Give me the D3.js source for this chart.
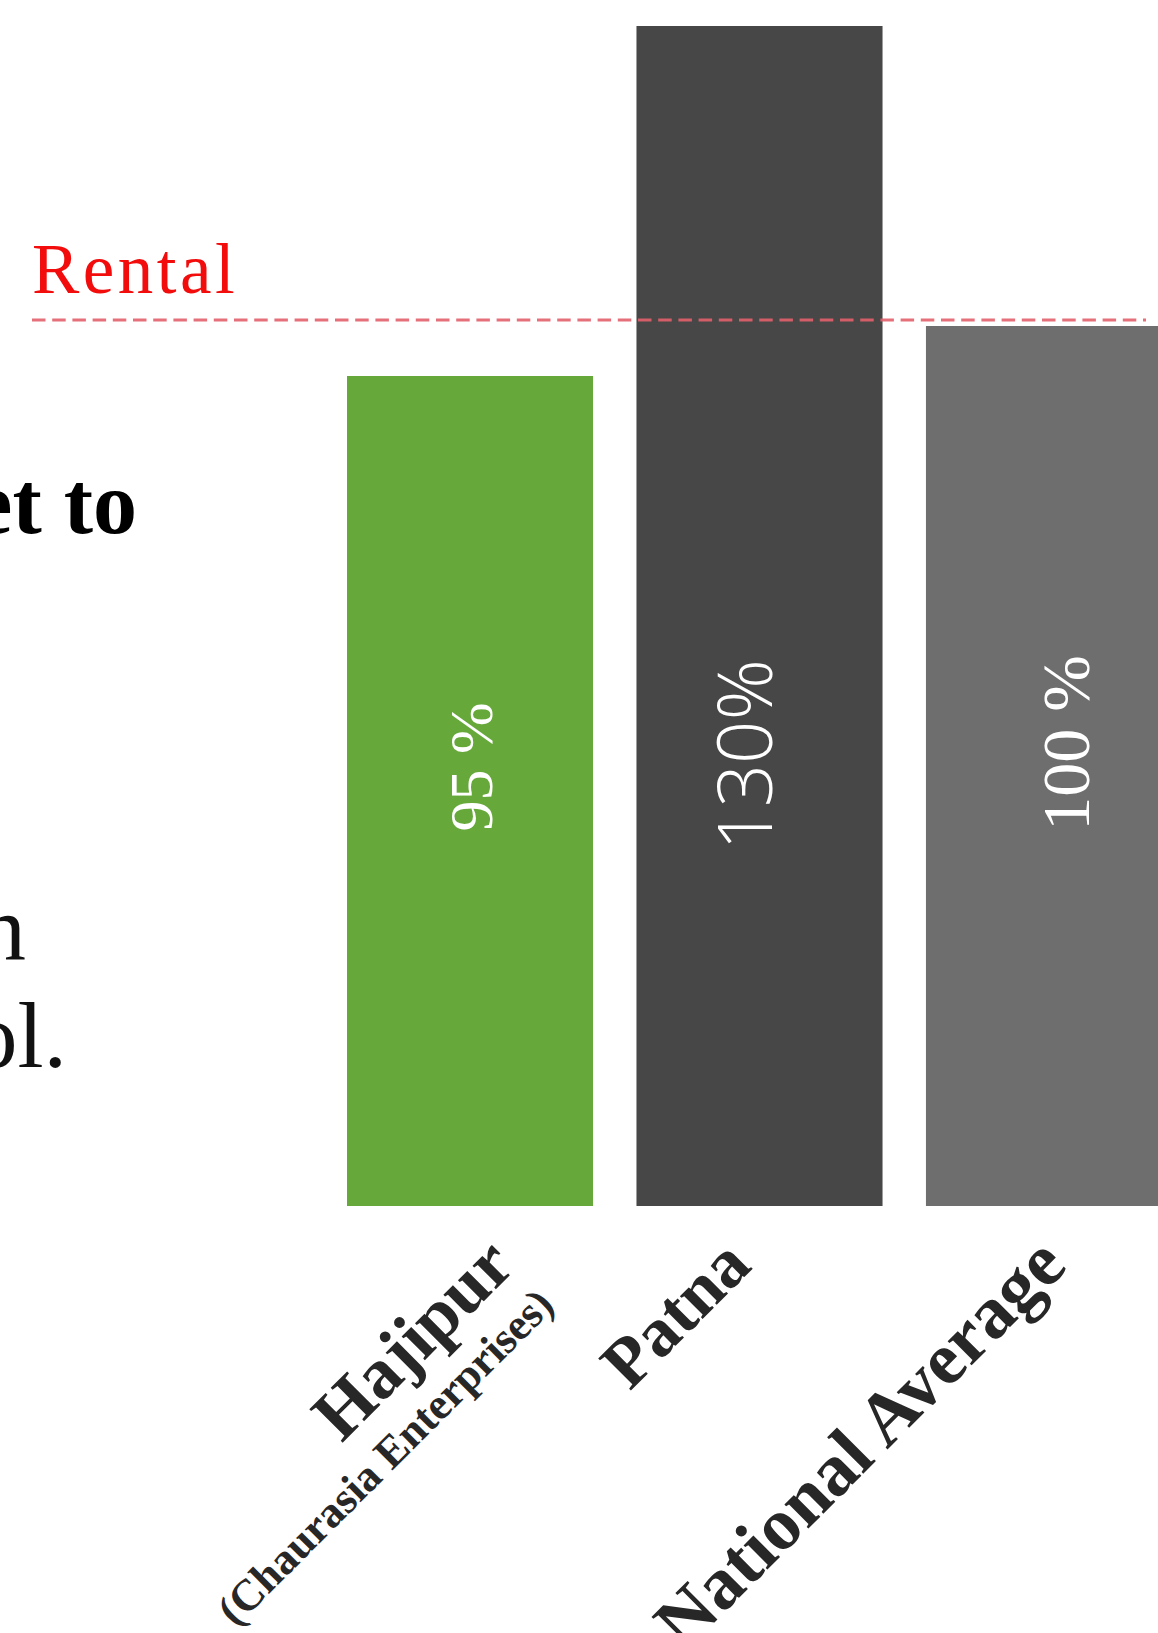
<!DOCTYPE html>
<html>
<head>
<meta charset="utf-8">
<script src="https://cdn.jsdelivr.net/npm/d3@7"></script>
<style>
  html, body { margin: 0; padding: 0; background: #fff; }
  svg { display: block; }
</style>
</head>
<body>
<svg id="chart"></svg>
<script>
// data
const categories = ["Hajipur", "Patna", "National Average"];
const subLabels = ["(Chaurasia Enterprises)", "", ""];
const rentValues = [95, 130, 100];
const valueLabels = ["95 %", "130%", "100 %"];
const rentalLevel = 100.6;
const rentalLabel = "Rental";
// clipped fragments of the paragraph on the left of the slide
const sideBold = ["et to"];
const sideLines = ["n", "ol."];

class RentBarChart {
    constructor(_config) {
        this.config = {
            parentElement: _config.parentElement,
            containerWidth: 1158,
            containerHeight: 1633,
            barLeft: 347,
            barRight: 1172,
            baseY: 1206,
            topY: 26,
            axisMin: 12,
            colors: ["#66a83a", "#474747", "#6e6e6e"],
            // per-bar label placement (rotated labels were hand placed in the slide)
            valueStyle: [
                {font: "'Liberation Serif', serif", size: 62, weight: 400, dx: 22, cy: 767},
                {font: "'Open Sans', sans-serif", size: 76, weight: 300, dx: 12, cy: 755},
                {font: "'Liberation Serif', serif", size: 68, weight: 400, dx: 40, cy: 743}
            ],
            catDx: [47, -6, 20],
            catSize: [72, 70, 74],
            catY: 1268
        };
        this.initVis();
    }

    initVis() {
        let vis = this;
        const c = vis.config;

        vis.svg = d3.select(c.parentElement)
            .attr("width", c.containerWidth)
            .attr("height", c.containerHeight);

        vis.x = d3.scaleBand()
            .domain(categories)
            .range([c.barLeft, c.barRight])
            .paddingInner(0.15)
            .paddingOuter(0);

        vis.y = d3.scaleLinear()
            .domain([c.axisMin, 130])
            .range([c.baseY, c.topY]);

        vis.renderVis();
    }

    renderVis() {
        let vis = this;
        const c = vis.config;
        const data = categories.map((d, i) => ({cat: d, sub: subLabels[i], value: rentValues[i], label: valueLabels[i], i: i}));

        // left paragraph fragments
        vis.svg.append("text")
            .attr("x", 137).attr("y", 533)
            .attr("text-anchor", "end")
            .style("font-family", "'Liberation Serif', serif")
            .style("font-weight", 700)
            .style("font-size", "88px")
            .attr("fill", "#000")
            .text(sideBold[0]);

        vis.svg.selectAll(".side-line")
            .data(sideLines)
            .join("text")
            .attr("class", "side-line")
            .attr("x", (d, i) => i === 0 ? 26 : 67)
            .attr("y", (d, i) => 960 + i * 107)
            .attr("text-anchor", "end")
            .style("font-family", "'Liberation Serif', serif")
            .style("font-size", "94px")
            .attr("fill", "#111")
            .text(d => d);

        // bars
        vis.svg.selectAll(".bar")
            .data(data)
            .join("rect")
            .attr("class", "bar")
            .attr("x", d => vis.x(d.cat))
            .attr("y", d => vis.y(d.value))
            .attr("width", vis.x.bandwidth())
            .attr("height", d => c.baseY - vis.y(d.value))
            .attr("fill", d => c.colors[d.i]);

        // rotated value labels inside bars
        vis.svg.selectAll(".value")
            .data(data)
            .join("text")
            .attr("class", "value")
            .attr("transform", d => {
                const s = c.valueStyle[d.i];
                return `translate(${vis.x(d.cat) + vis.x.bandwidth() / 2 + s.dx},${s.cy}) rotate(-90)`;
            })
            .attr("text-anchor", "middle")
            .style("font-family", d => c.valueStyle[d.i].font)
            .style("font-size", d => c.valueStyle[d.i].size + "px")
            .style("font-weight", d => c.valueStyle[d.i].weight)
            .attr("fill", "#fff")
            .text(d => d.label);

        // rental reference line
        const ry = vis.y(rentalLevel);
        vis.svg.append("line")
            .attr("x1", 32).attr("x2", 1146)
            .attr("y1", ry).attr("y2", ry)
            .attr("stroke", "#e2606b")
            .attr("stroke-opacity", 0.9)
            .attr("stroke-width", 3)
            .attr("stroke-dasharray", "13.5 6.7");

        vis.svg.append("text")
            .attr("x", 32).attr("y", ry - 27)
            .style("font-family", "'Liberation Serif', serif")
            .style("font-size", "71px")
            .style("letter-spacing", "3.5px")
            .attr("fill", "#f20c0c")
            .text(rentalLabel);

        // category labels, rotated 45 degrees, right aligned
        const cats = vis.svg.selectAll(".cat")
            .data(data)
            .join("text")
            .attr("class", "cat")
            .attr("transform", d => `translate(${vis.x(d.cat) + vis.x.bandwidth() / 2 + c.catDx[d.i]},${c.catY}) rotate(-45)`)
            .attr("text-anchor", "end")
            .style("font-family", "'Liberation Serif', serif")
            .style("font-weight", 700)
            .attr("fill", "#272727");

        cats.append("tspan")
            .attr("x", 0)
            .style("font-size", d => c.catSize[d.i] + "px")
            .text(d => d.cat);

        cats.filter(d => d.sub !== "")
            .append("tspan")
            .attr("x", 0)
            .attr("dy", 55)
            .style("font-size", "44px")
            .text(d => d.sub);
    }
}

new RentBarChart({parentElement: "#chart"});
</script>
</body>
</html>
